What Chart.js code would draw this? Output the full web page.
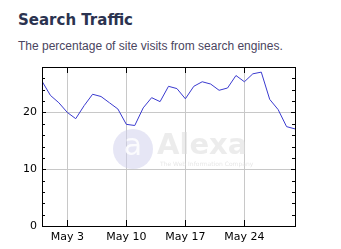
<!DOCTYPE html>
<html>
<head>
<meta charset="utf-8">
<script src="https://cdn.jsdelivr.net/npm/chart.js@4/dist/chart.umd.min.js"></script>
<style>
html,body{margin:0;padding:0;background:#fff;}
#wrap{position:relative;width:341px;height:249px;overflow:hidden;}
#title{position:absolute;left:18px;top:11px;font:bold 15px "DejaVu Sans",Verdana,sans-serif;color:#2b3350;white-space:nowrap;}
#sub{position:absolute;left:18px;top:39px;font:12px "Liberation Sans",Arial,sans-serif;color:#4a4560;white-space:nowrap;}
canvas{position:absolute;left:0;top:0;}
</style>
</head>
<body>
<div id="wrap">
<div id="title">Search Traffic</div>
<div id="sub">The percentage of site visits from search engines.</div>
<canvas id="c" width="341" height="249"></canvas>
</div>
<script>
// Days: index 0 = Apr 30 ... index 30 = May 30
const dates = ["Apr 30","May 1","May 2","May 3","May 4","May 5","May 6","May 7","May 8","May 9",
  "May 10","May 11","May 12","May 13","May 14","May 15","May 16","May 17","May 18","May 19",
  "May 20","May 21","May 22","May 23","May 24","May 25","May 26","May 27","May 28","May 29","May 30"];
const searchPct = [25.5,23.0,21.7,20.0,18.9,21.2,23.2,22.8,21.7,20.6,
  17.9,17.7,20.8,22.6,21.9,24.6,24.2,22.4,24.6,25.4,
  25.0,23.9,24.3,26.5,25.4,26.8,27.1,22.3,20.5,17.5,17.1];
const xTickLabels = ["May 3","May 10","May 17","May 24"];
const yTickValues = [0,10,20];

const xTickIdx = xTickLabels.map(l => dates.indexOf(l));

const frame = {
  id:'frame',
  beforeDatasetsDraw(chart){
    const ctx = chart.ctx;
    ctx.save();
    ctx.fillStyle = 'rgba(205,205,235,0.5)';
    ctx.beginPath(); ctx.arc(133,149,20,0,Math.PI*2); ctx.fill();
    ctx.fillStyle = 'rgba(255,255,255,0.85)';
    ctx.font = '30px "DejaVu Sans", sans-serif';
    ctx.textAlign='center'; ctx.textBaseline='middle';
    ctx.fillText('a',133,147);
    ctx.fillStyle = 'rgba(220,220,220,0.55)';
    ctx.font = 'bold 29px "DejaVu Sans", sans-serif';
    ctx.textAlign='left'; ctx.textBaseline='alphabetic';
    ctx.fillText('Alexa',157,154);
    ctx.font = '6px "DejaVu Sans", sans-serif';
    ctx.fillStyle = 'rgba(220,220,220,0.7)';
    ctx.fillText('The Web Information Company',160,166);
    ctx.restore();
  },
  afterDraw(chart){
    const ctx = chart.ctx, a = chart.chartArea;
    const xs = chart.scales.x, ys = chart.scales.y;
    ctx.save();
    ctx.strokeStyle = '#000'; ctx.lineWidth = 1;
    ctx.strokeRect(Math.round(a.left)+0.5, Math.round(a.top)+0.5, Math.round(a.right-a.left), Math.round(a.bottom-a.top));
    ctx.beginPath();
    xTickIdx.forEach(i => {
      const px = Math.round(xs.getPixelForValue(i))+0.5;
      ctx.moveTo(px, a.top); ctx.lineTo(px, a.top+6);
      ctx.moveTo(px, a.bottom); ctx.lineTo(px, a.bottom-6);
    });
    for (let v = 0; v <= ys.max; v += 2) {
      const py = Math.round(ys.getPixelForValue(v))+0.5;
      const len = (v % 10 === 0) ? 4 : 3;
      ctx.moveTo(a.left, py); ctx.lineTo(a.left+len, py);
      ctx.moveTo(a.right, py); ctx.lineTo(a.right-len, py);
    }
    ctx.stroke();
    ctx.restore();
  }
};

new Chart(document.getElementById('c'), {
  type:'line',
  data:{
    datasets:[{
      data: searchPct.map((v,i)=>({x:i,y:v})),
      borderColor:'#3a3acf',
      borderWidth:1,
      pointRadius:0,
      tension:0,
      fill:false
    }]
  },
  options:{
    responsive:false,
    animation:false,
    devicePixelRatio:1,
    layout:{padding:{left:0,top:67,right:46,bottom:0}},
    plugins:{legend:{display:false},tooltip:{enabled:false}},
    scales:{
      x:{
        type:'linear', min:0, max:dates.length-1,
        afterBuildTicks(s){ s.ticks = xTickIdx.map(v=>({value:v})); },
        afterFit(s){ s.height = 23; },
        grid:{color:'#c8c8c8', drawTicks:false},
        border:{display:false},
        ticks:{
          callback:(v)=>dates[v],
          color:'#000', padding:5, maxRotation:0, autoSkip:false,
          font:{family:'"DejaVu Sans", Verdana, sans-serif', size:11}
        }
      },
      y:{
        min:0, max:28,
        afterBuildTicks(s){ s.ticks = yTickValues.map(v=>({value:v})); },
        afterFit(s){ s.width = 42; },
        grid:{color:'#c8c8c8', drawTicks:false},
        border:{display:false},
        ticks:{
          color:'#000', padding:5,
          font:{family:'"DejaVu Sans", Verdana, sans-serif', size:11}
        }
      }
    }
  },
  plugins:[frame]
});
</script>
</body>
</html>
